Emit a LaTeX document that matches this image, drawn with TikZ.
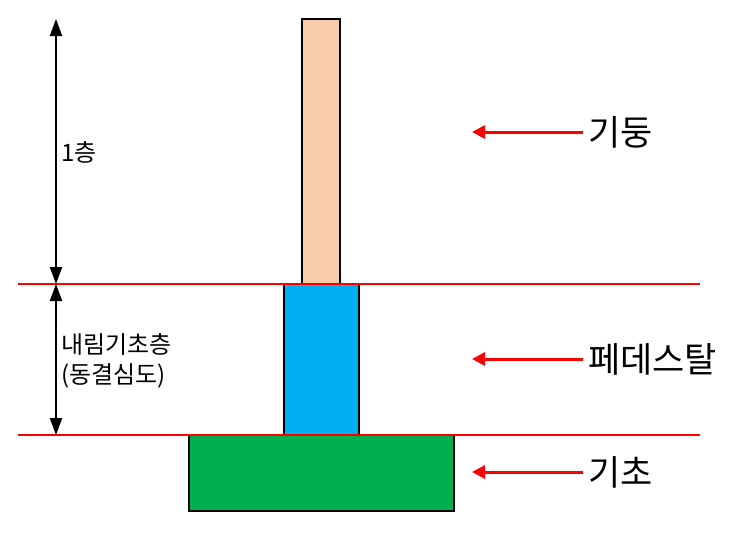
\documentclass[tikz,border=0pt]{standalone}
\usepackage{fontspec}
\setmainfont{Noto Sans CJK KR}
\usetikzlibrary{arrows.meta}
\definecolor{colfill}{RGB}{248,203,173}
\definecolor{pedfill}{RGB}{0,176,240}
\definecolor{footfill}{RGB}{0,176,80}
\definecolor{lred}{RGB}{255,0,0}
\begin{document}
\begin{tikzpicture}[x=1pt,y=-1pt,
  block/.style={draw=black,line width=1.2pt},
  level/.style={draw=lred,line width=2pt},
  dim/.style={line width=2pt,{Triangle[length=17pt,width=12pt]}-{Triangle[length=17pt,width=12pt]}},
  pointer/.style={draw=lred,line width=3pt,-{Triangle[length=13pt,width=13pt]}},
  big/.style={font=\fontsize{35}{40}\selectfont,anchor=west,inner sep=0pt},
  small/.style={font=\fontsize{24}{30}\selectfont,anchor=west,inner sep=0pt,align=left}]
\useasboundingbox (0,0) rectangle (730,536);
% blocks
\draw[block,fill=colfill] (302,19) rectangle (340,284);
\draw[block,fill=pedfill] (284,284) rectangle (359,435);
\draw[block,fill=footfill] (189,435) rectangle (454,511);
% level lines
\coordinate (l1a) at (18,284); \coordinate (l1b) at (700,284);
\coordinate (l2a) at (18,435); \coordinate (l2b) at (700,435);
\draw[level] (l1a) -- (l1b);
\draw[level] (l2a) -- (l2b);
% dimension arrows
\coordinate (d0) at (56,19); \coordinate (d1) at (56,284); \coordinate (d2) at (56,435);
\draw[dim] (d0) -- (d1);
\draw[dim] (d1) -- (d2);
\node[small] (floor1) at (61,152) {1층};
\node[small] (frost) at (61,361) {내림기초층\\(동결심도)};
% labels with pointers
\node[big] (col) at (588,132) {기둥};
\node[big] (ped) at (588,359) {페데스탈};
\node[big] (foot) at (588,472) {기초};
\coordinate (p1) at (472,132);
\coordinate (p2) at (472,359);
\coordinate (p3) at (472,472);
\draw[pointer] (col.west) ++(-5,0) -- (p1);
\draw[pointer] (ped.west) ++(-5,0) -- (p2);
\draw[pointer] (foot.west) ++(-5,0) -- (p3);
\end{tikzpicture}
\end{document}
